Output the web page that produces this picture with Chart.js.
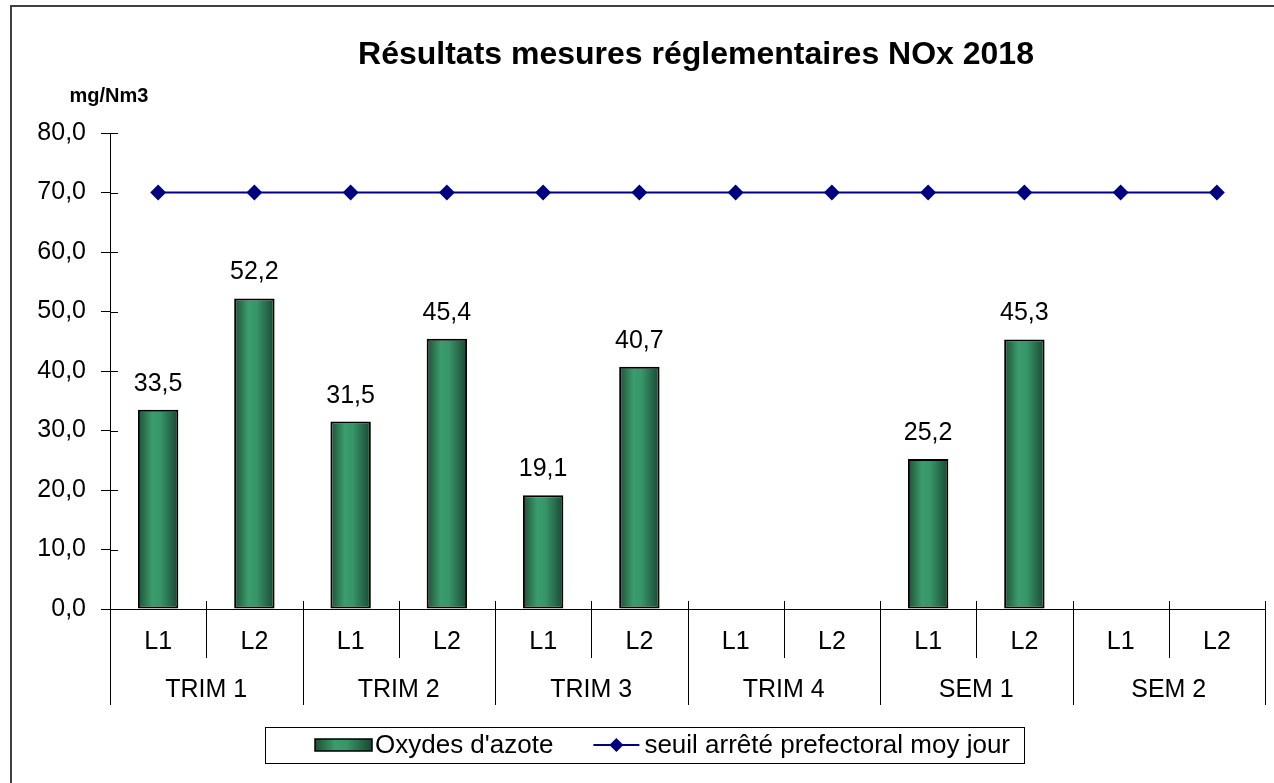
<!DOCTYPE html>
<html>
<head>
<meta charset="utf-8">
<script src="https://cdn.jsdelivr.net/npm/chart.js@4.4.0/dist/chart.umd.min.js"></script>
<style>
  html, body { margin: 0; padding: 0; background: #fff; }
  #wrap { width: 1274px; height: 783px; }
</style>
</head>
<body>
<div id="wrap"><canvas id="myChart"></canvas></div>
<script>
// data
var labels = ['L1', 'L2', 'L1', 'L2', 'L1', 'L2', 'L1', 'L2', 'L1', 'L2', 'L1', 'L2'];
var groups = ['TRIM 1', 'TRIM 2', 'TRIM 3', 'TRIM 4', 'SEM 1', 'SEM 2'];
var oxydes = [33.5, 52.2, 31.5, 45.4, 19.1, 40.7, null, null, 25.2, 45.3, null, null];
var seuil = [70, 70, 70, 70, 70, 70, 70, 70, 70, 70, 70, 70];
var yMin = 0, yMax = 80, yStep = 10;

var FONT = 'Arial, "Liberation Sans", sans-serif';
var BAR_PCT = 0.42;
var NAVY = '#000080';

function fmt(v) {
    return v.toFixed(1).replace('.', ',');
}

function greenGradient(ctx, x0, x1) {
    var g = ctx.createLinearGradient(x0, 0, x1, 0);
    g.addColorStop(0, '#1c5036');
    g.addColorStop(0.35, '#3b9c6c');
    g.addColorStop(0.55, '#38966a');
    g.addColorStop(1, '#1a4731');
    return g;
}

function barFill(c) {
    var chart = c.chart;
    var x = chart.scales && chart.scales.x;
    if (!chart.chartArea || !x || c.type !== 'data') return '#2e8b5a';
    var cx = x.getPixelForValue(c.dataIndex);
    var half = x.width / labels.length * BAR_PCT / 2;
    return greenGradient(chart.ctx, cx - half, cx + half);
}

var decor = {
    id: 'decor',
    afterDraw: function(chart) {
        var ctx = chart.ctx;
        var x = chart.scales.x, y = chart.scales.y;
        var area = chart.chartArea;
        ctx.save();

        // outer frame
        ctx.strokeStyle = '#404040';
        ctx.lineWidth = 2;
        ctx.strokeRect(11, 6, 1300, 800);

        // title and unit
        ctx.fillStyle = '#000';
        ctx.textAlign = 'center';
        ctx.textBaseline = 'middle';
        ctx.font = 'bold 32px ' + FONT;
        ctx.fillText('Résultats mesures réglementaires NOx 2018', 696, 55);
        ctx.font = 'bold 20px ' + FONT;
        ctx.fillText('mg/Nm3', 109, 96);

        // y ticks crossing the axis (inner part)
        ctx.strokeStyle = '#000';
        ctx.lineWidth = 1;
        y.ticks.forEach(function(t) {
            var py = Math.round(y.getPixelForValue(t.value)) + 0.5;
            ctx.beginPath(); ctx.moveTo(area.left, py); ctx.lineTo(area.left + 8, py); ctx.stroke();
        });

        // category separators and group labels
        var n = labels.length;
        var w = (area.right - area.left) / n;
        for (var i = 0; i <= n; i++) {
            var px = Math.round(area.left + i * w) + 0.5;
            var down = (i % 2 === 0) ? 96 : 49;
            ctx.beginPath();
            ctx.moveTo(px, area.bottom - (i === 0 ? 0 : 8));
            ctx.lineTo(px, area.bottom + down);
            ctx.stroke();
        }
        ctx.font = '25px ' + FONT;
        ctx.textBaseline = 'middle';
        groups.forEach(function(g, k) {
            var cx = (x.getPixelForValue(2 * k) + x.getPixelForValue(2 * k + 1)) / 2;
            ctx.fillText(g, cx, area.bottom + 81);
        });

        // values above bars
        var meta = chart.getDatasetMeta(1);
        ctx.textBaseline = 'alphabetic';
        meta.data.forEach(function(bar, i) {
            if (oxydes[i] === null) return;
            ctx.fillText(fmt(oxydes[i]), bar.x, bar.y - 19);
        });

        // legend (Excel style, boxed)
        var ds = chart.data.datasets;
        var ly = 745, lx = 315;
        ctx.font = '26px ' + FONT;
        ctx.textAlign = 'left';
        ctx.textBaseline = 'middle';
        ctx.fillStyle = greenGradient(ctx, lx, lx + 57);
        ctx.fillRect(lx, ly - 6, 57, 12);
        ctx.lineWidth = 1.5;
        ctx.strokeStyle = '#000';
        ctx.strokeRect(lx, ly - 6, 57, 12);
        ctx.fillStyle = '#000';
        ctx.fillText(ds[1].label, lx + 60, ly + 1);
        lx += 60 + ctx.measureText(ds[1].label).width + 40;
        ctx.strokeStyle = NAVY;
        ctx.lineWidth = 2;
        ctx.beginPath(); ctx.moveTo(lx, ly); ctx.lineTo(lx + 46, ly); ctx.stroke();
        ctx.fillStyle = NAVY;
        ctx.beginPath();
        ctx.moveTo(lx + 23, ly - 7); ctx.lineTo(lx + 30, ly); ctx.lineTo(lx + 23, ly + 7); ctx.lineTo(lx + 16, ly);
        ctx.closePath(); ctx.fill();
        ctx.fillStyle = '#000';
        ctx.fillText(ds[0].label, lx + 51, ly + 1);
        var right = lx + 51 + ctx.measureText(ds[0].label).width + 14;
        ctx.strokeStyle = '#000';
        ctx.lineWidth = 1;
        ctx.strokeRect(265.5, 727.5, Math.round(right - 265), 36);

        ctx.restore();
    }
};

var ctx = document.getElementById('myChart').getContext('2d');

var myChart = new Chart(ctx, {
    data: {
        labels: labels,
        datasets: [{
            type: 'line',
            label: 'seuil arrêté prefectoral moy jour',
            data: seuil,
            borderColor: NAVY,
            borderWidth: 2,
            pointStyle: 'rectRot',
            pointRadius: 6.5,
            pointBackgroundColor: NAVY,
            pointBorderColor: NAVY,
            tension: 0,
            order: 0
        }, {
            type: 'bar',
            label: "Oxydes d'azote",
            data: oxydes,
            backgroundColor: barFill,
            borderColor: '#000',
            borderWidth: 2,
            borderSkipped: false,
            barPercentage: BAR_PCT,
            categoryPercentage: 1,
            order: 1
        }]
    },
    options: {
        responsive: true,
        maintainAspectRatio: false,
        animation: false,
        layout: { padding: { top: 133, left: 0, right: 9, bottom: 70 } },
        plugins: {
            title: { display: false },
            legend: { display: false },
            tooltip: { enabled: false }
        },
        scales: {
            x: {
                type: 'category',
                offset: true,
                grid: { display: false, drawTicks: false, tickLength: 0 },
                border: { display: true, color: '#000', width: 1 },
                ticks: { color: '#000', font: { family: FONT, size: 25 }, padding: 18, maxRotation: 0, autoSkip: false },
                afterFit: function(scale) { scale.height = 104; }
            },
            y: {
                min: yMin,
                max: yMax,
                grid: { display: true, drawOnChartArea: false, color: '#000', tickLength: 9 },
                border: { display: true, color: '#000', width: 1 },
                ticks: {
                    stepSize: yStep,
                    color: '#000',
                    font: { family: FONT, size: 25 },
                    padding: 15,
                    callback: function(v) { return fmt(v); }
                },
                afterFit: function(scale) { scale.width = 110; }
            }
        }
    },
    plugins: [decor]
});
</script>
</body>
</html>
